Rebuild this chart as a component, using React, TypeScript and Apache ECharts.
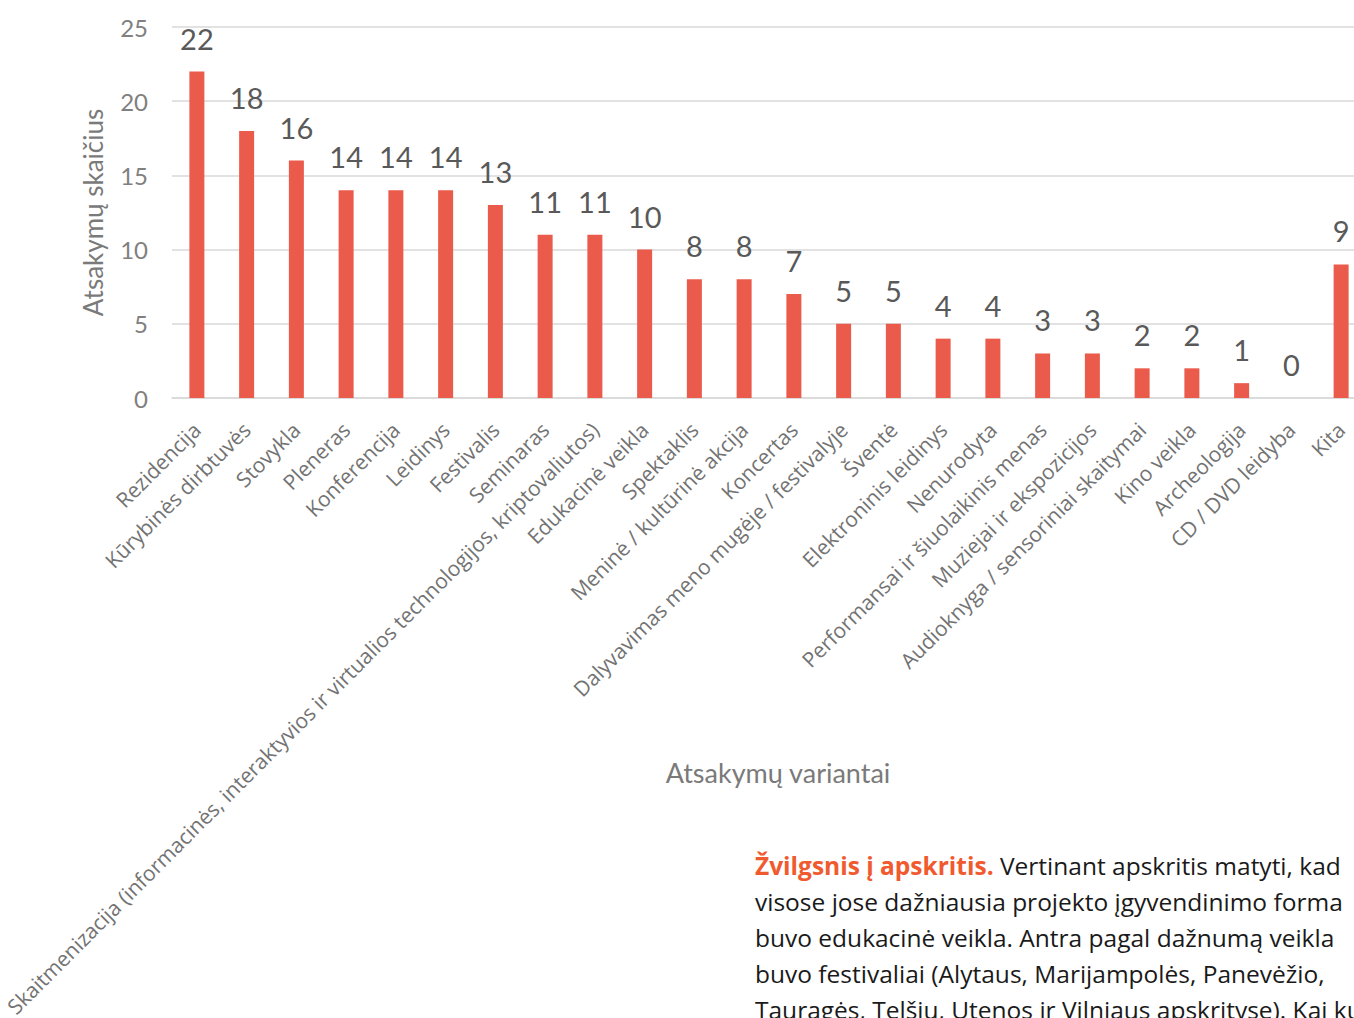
import React, { useEffect, useRef } from "react";
import * as echarts from "echarts";

const categories: string[] = [
  "Rezidencija",
  "Kūrybinės dirbtuvės",
  "Stovykla",
  "Pleneras",
  "Konferencija",
  "Leidinys",
  "Festivalis",
  "Seminaras",
  "Skaitmenizacija (informacinės, interaktyvios ir virtualios technologijos, kriptovaliutos)",
  "Edukacinė veikla",
  "Spektaklis",
  "Meninė / kultūrinė akcija",
  "Koncertas",
  "Dalyvavimas meno mugėje / festivalyje",
  "Šventė",
  "Elektroninis leidinys",
  "Nenurodyta",
  "Performansai ir šiuolaikinis menas",
  "Muziejai ir ekspozicijos",
  "Audioknyga / sensoriniai skaitymai",
  "Kino veikla",
  "Archeologija",
  "CD / DVD leidyba",
  "Kita",
];

const values: number[] = [22, 18, 16, 14, 14, 14, 13, 11, 11, 10, 8, 8, 7, 5, 5, 4, 4, 3, 3, 2, 2, 1, 0, 9];

const yAxisTitle = "Atsakymų skaičius";
const xAxisTitle = "Atsakymų variantai";

const paragraphLead = "Žvilgsnis į apskritis.";
const paragraphLines: string[] = [
  " Vertinant apskritis matyti, kad",
  "visose jose dažniausia projekto įgyvendinimo forma",
  "buvo edukacinė veikla. Antra pagal dažnumą veikla",
  "buvo festivaliai (Alytaus, Marijampolės, Panevėžio,",
  "Tauragės, Telšių, Utenos ir Vilniaus apskrityse). Kai kuriose",
];

export default function App() {
  const ref = useRef<HTMLDivElement>(null);

  useEffect(() => {
    if (!ref.current) return;
    const chart = echarts.init(ref.current, undefined, { renderer: "svg" });

    const paraFont = "'Open Sans', 'Noto Sans', sans-serif";
    const paraSize = 24.5;
    const graphics: any[] = paragraphLines.map((line, i) => {
      if (i === 0) {
        return {
          type: "text",
          left: 755,
          top: 853,
          style: {
            text: "{b|" + paragraphLead + "}{n|" + line + "}",
            rich: {
              b: { fontSize: paraSize, fontWeight: "bold", fill: "#F05A2E", fontFamily: paraFont },
              n: { fontSize: paraSize, fill: "#1a1a1a", fontFamily: paraFont },
            },
          },
        };
      }
      return {
        type: "text",
        left: 755,
        top: 853 + i * 36,
        style: {
          text: line,
          fontSize: paraSize,
          fill: "#1a1a1a",
          fontFamily: paraFont,
        },
      };
    });

    chart.setOption({
      animation: false,
      textStyle: { fontFamily: "Lato, 'Noto Sans', sans-serif" },
      grid: { left: 172, top: 27, right: 14, bottom: 620, containLabel: false, outerBoundsMode: "none" },
      xAxis: {
        type: "category",
        data: categories,
        name: xAxisTitle,
        nameLocation: "middle",
        nameGap: 361,
        nameMoveOverlap: false,
        nameTextStyle: { fontSize: 27, color: "#7a7a7a", padding: [0, 0, 0, 18], fontFamily: "Lato, sans-serif" },
        axisLine: { show: true, lineStyle: { color: "#d9d9d9", width: 1.5 } },
        axisTick: { show: false },
        axisLabel: {
          interval: 0,
          rotate: 45,
          margin: 28,
          fontSize: 21,
          color: "#737373",
          fontFamily: "'Open Sans', sans-serif",
        },
      },
      yAxis: {
        type: "value",
        min: 0,
        max: 25,
        interval: 5,
        name: yAxisTitle,
        nameLocation: "middle",
        nameRotate: 90,
        nameGap: 66,
        nameMoveOverlap: false,
        nameTextStyle: { fontSize: 26, color: "#7a7a7a", fontFamily: "Lato, sans-serif" },
        axisLine: { show: false },
        axisTick: { show: false },
        axisLabel: { fontSize: 24, color: "#808080", margin: 24 },
        splitLine: { lineStyle: { color: "#d9d9d9", width: 1.5 } },
      },
      series: [
        {
          type: "bar",
          data: values,
          barWidth: 15,
          itemStyle: { color: "#EB5B4B" },
          label: {
            show: true,
            position: "top",
            distance: 19,
            fontSize: 29,
            color: "#595959",
          },
        },
      ],
      graphic: graphics,
    });

    return () => chart.dispose();
  }, []);

  return (
    <div style={{ position: "fixed", left: 0, top: 0, width: 1354, height: 1018, overflow: "hidden", background: "#fff" }}>
      <div ref={ref} style={{ width: 1380, height: 1018 }} />
    </div>
  );
}
